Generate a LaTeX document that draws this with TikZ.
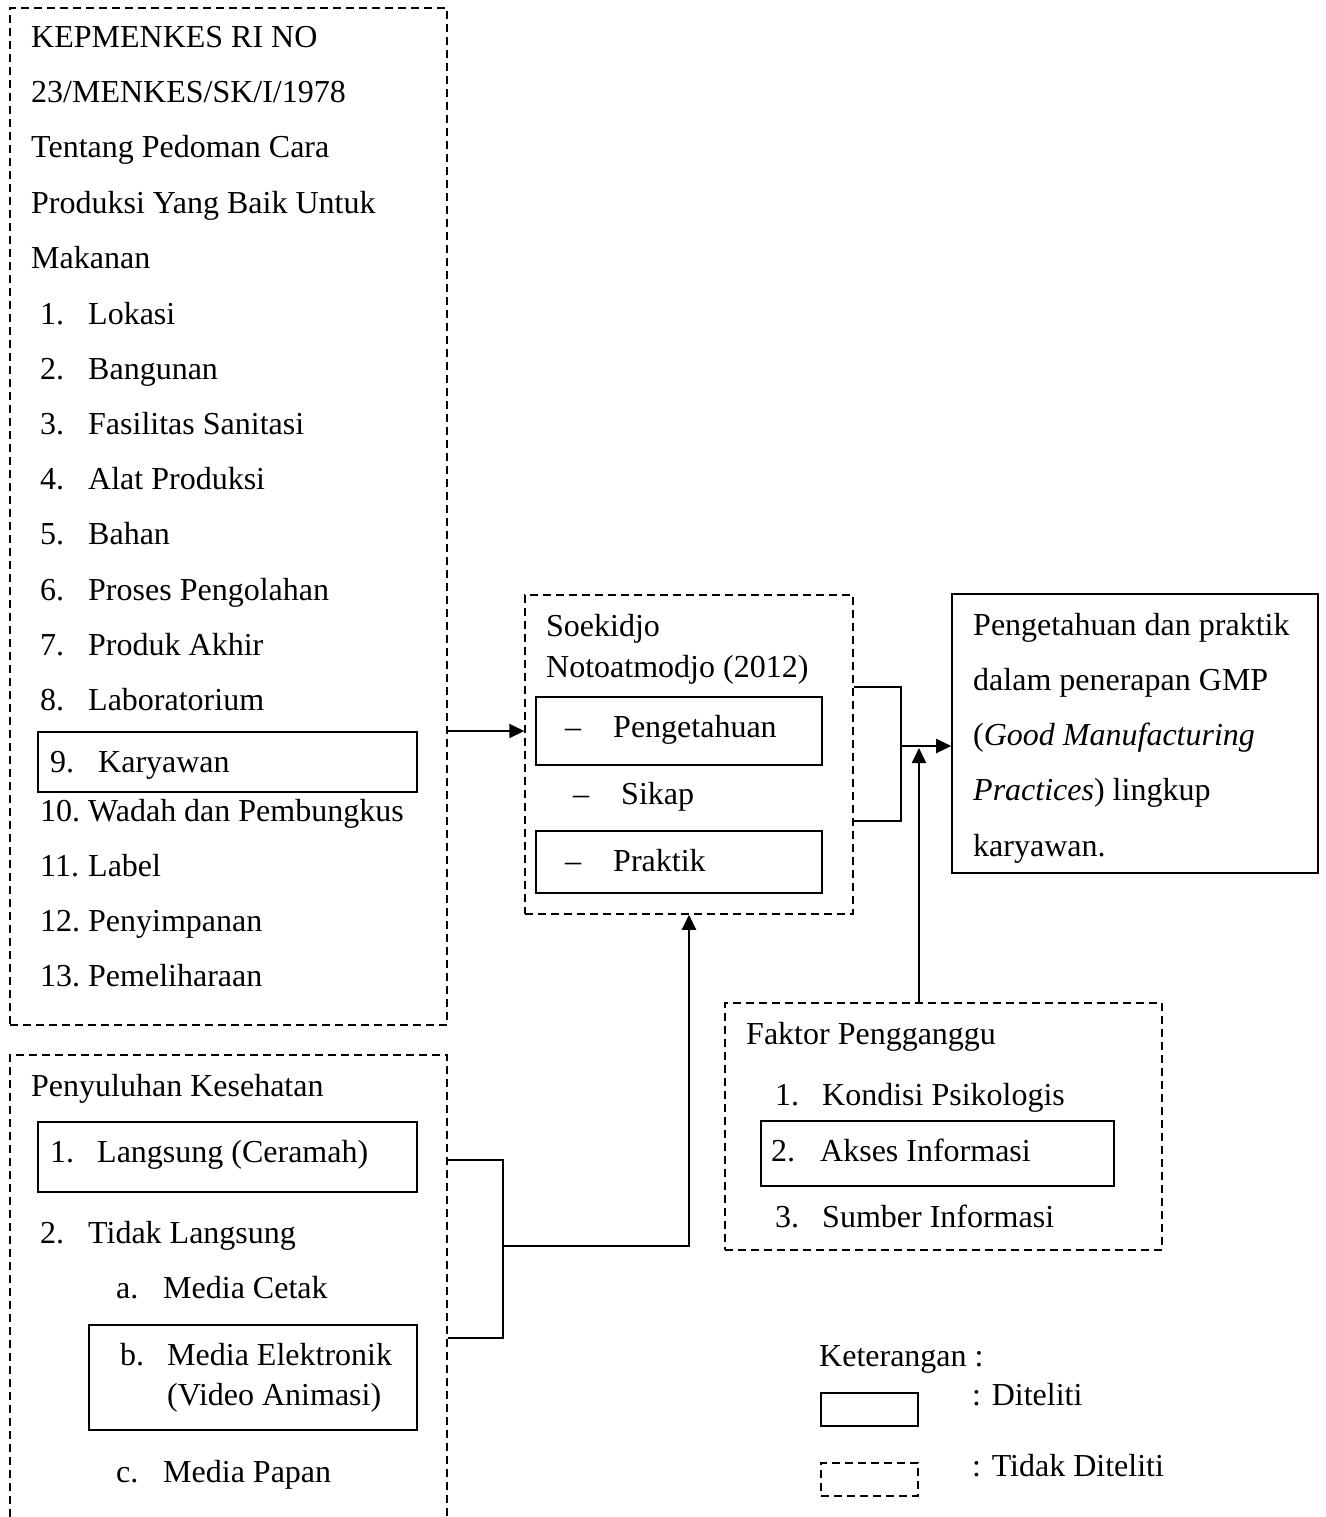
\documentclass[tikz,border=0pt]{standalone}
\usepackage{fontspec}
\setmainfont{Liberation Serif}
\usetikzlibrary{arrows.meta,fit}
\tikzset{
  txt/.style={anchor=base west, inner sep=0pt, font=\fontsize{32}{38}\selectfont},
  sbox/.style={draw, line width=1.6pt, inner sep=0pt},
  dbox/.style={draw, line width=1.5pt, dash pattern=on 8pt off 5pt, inner sep=0pt},
  conn/.style={line width=2pt},
  arr/.style={line width=2pt, -{Triangle[length=15pt,width=14pt]}},
}
\begin{document}
\begin{tikzpicture}[x=1pt,y=-1pt]
\useasboundingbox (0,0) rectangle (1325,1517);

% ---------- Box 1: KEPMENKES ----------
\node[dbox, fit={(10,8) (447,1025)}] (b1) {};
\node[txt] (t1) at (31,48) {KEPMENKES RI NO};
\node[txt] (t2) at (31,103) {23/MENKES/SK/I/1978};
\node[txt] (t3) at (31,158) {Tentang Pedoman Cara};
\node[txt] (t4) at (31,213) {Produksi Yang Baik Untuk};
\node[txt] (t5) at (31,268) {Makanan};
\node[txt] (n1) at (40,324) {1.};  \node[txt] (l1) at (88,324) {Lokasi};
\node[txt] (n2) at (40,379) {2.};  \node[txt] (l2) at (88,379) {Bangunan};
\node[txt] (n3) at (40,434) {3.};  \node[txt] (l3) at (88,434) {Fasilitas Sanitasi};
\node[txt] (n4) at (40,489) {4.};  \node[txt] (l4) at (88,489) {Alat Produksi};
\node[txt] (n5) at (40,544) {5.};  \node[txt] (l5) at (88,544) {Bahan};
\node[txt] (n6) at (40,600) {6.};  \node[txt] (l6) at (88,600) {Proses Pengolahan};
\node[txt] (n7) at (40,655) {7.};  \node[txt] (l7) at (88,655) {Produk Akhir};
\node[txt] (n8) at (40,710) {8.};  \node[txt] (l8) at (88,710) {Laboratorium};
\node[sbox, fit={(38,732) (417,792)}] (b9) {};
\node[txt] (n9) at (50,772) {9.};  \node[txt] (l9) at (98,772) {Karyawan};
\node[txt] (n10) at (40,821) {10.}; \node[txt] (l10) at (88,821) {Wadah dan Pembungkus};
\node[txt] (n11) at (40,876) {11.}; \node[txt] (l11) at (88,876) {Label};
\node[txt] (n12) at (40,931) {12.}; \node[txt] (l12) at (88,931) {Penyimpanan};
\node[txt] (n13) at (40,986) {13.}; \node[txt] (l13) at (88,986) {Pemeliharaan};

% ---------- Middle box: Soekidjo ----------
\node[dbox, fit={(525,595) (853,914)}] (mid) {};
\node[txt] (m1) at (546,636) {Soekidjo};
\node[txt] (m2) at (546,677) {Notoatmodjo (2012)};
\node[sbox, fit={(536,697) (822,765)}] (bp) {};
\node[txt] (d1) at (565,737) {--}; \node[txt] (p1) at (613,737) {Pengetahuan};
\node[txt] (d2) at (573,804) {--}; \node[txt] (p2) at (621,804) {Sikap};
\node[sbox, fit={(536,831) (822,893)}] (bk) {};
\node[txt] (d3) at (565,871) {--}; \node[txt] (p3) at (613,871) {Praktik};

% ---------- Output box ----------
\node[sbox, fit={(952,594) (1318,873)}] (out) {};
\node[txt] (o1) at (973,635) {Pengetahuan dan praktik};
\node[txt] (o2) at (973,690) {dalam penerapan GMP};
\node[txt] (o3) at (973,745) {(\textit{Good Manufacturing}};
\node[txt] (o4) at (973,800) {\textit{Practices}) lingkup};
\node[txt] (o5) at (973,856) {karyawan.};

% ---------- Box 2: Penyuluhan ----------
\coordinate (b2bl) at (10,1530);
\coordinate (b2br) at (447,1530);
\draw[line width=1.5pt, dash pattern=on 8pt off 5pt] (b2bl) -- (10,1055) -- (447,1055) -- (b2br);
\node[txt] (s0) at (31,1096) {Penyuluhan Kesehatan};
\node[sbox, fit={(38,1122) (417,1192)}] (bl) {};
\node[txt] (sn1) at (50,1162) {1.}; \node[txt] (s1) at (97,1162) {Langsung (Ceramah)};
\node[txt] (sn2) at (40,1243) {2.}; \node[txt] (s2) at (88,1243) {Tidak Langsung};
\node[txt] (sa) at (116,1298) {a.}; \node[txt] (s3) at (163,1298) {Media Cetak};
\node[sbox, fit={(89,1325) (417,1430)}] (be) {};
\node[txt] (sb) at (120,1365) {b.}; \node[txt] (s4) at (167,1365) {Media Elektronik};
\node[txt] (s5) at (167,1405) {(Video Animasi)};
\node[txt] (sc) at (116,1482) {c.}; \node[txt] (s6) at (163,1482) {Media Papan};

% ---------- Faktor Pengganggu ----------
\node[dbox, fit={(725,1003) (1162,1250)}] (fak) {};
\node[txt] (f0) at (746,1044) {Faktor Pengganggu};
\node[txt] (fn1) at (775,1105) {1.}; \node[txt] (f1) at (822,1105) {Kondisi Psikologis};
\node[sbox, fit={(761,1121) (1114,1186)}] (ba) {};
\node[txt] (fn2) at (771,1161) {2.}; \node[txt] (f2) at (820,1161) {Akses Informasi};
\node[txt] (fn3) at (775,1227) {3.}; \node[txt] (f3) at (822,1227) {Sumber Informasi};

% ---------- Legend ----------
\node[txt] (k0) at (819,1366) {Keterangan :};
\node[sbox, fit={(821,1393) (918,1426)}] (ls) {};
\node[txt] (k1) at (972,1405) {: Diteliti};
\node[dbox, fit={(821,1463) (918,1496)}] (ld) {};
\node[txt] (k2) at (972,1476) {: Tidak Diteliti};

% ---------- Connectors ----------
\coordinate (a1) at (447,731);
\draw[arr] (a1) -- (a1 -| mid.west);

\coordinate (br1) at (901,687);
\coordinate (br2) at (901,821);
\draw[conn] (br1 -| mid.east) -- (br1) -- (br2) -- (br2 -| mid.east);
\coordinate (j1) at (901,746);
\draw[arr] (j1) -- (j1 -| out.west);
\coordinate (j3) at (919,748);
\draw[arr] (fak.north -| j3) -- (j3);

\coordinate (c1) at (503,1160);
\coordinate (c2) at (503,1338);
\draw[conn] (c1 -| b1.east) -- (c1) -- (c2) -- (c2 -| b1.east);
\coordinate (j2) at (503,1246);
\draw[arr] (j2) -| (mid.south);
\end{tikzpicture}
\end{document}
